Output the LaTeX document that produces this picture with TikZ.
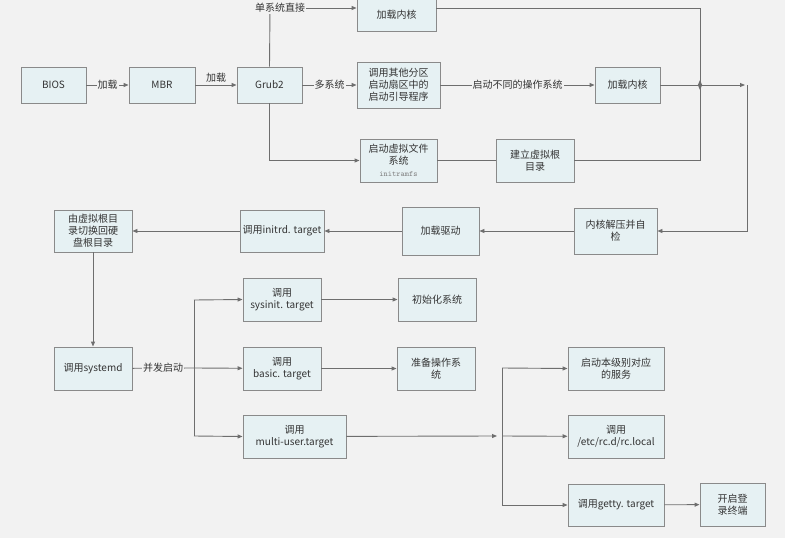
\documentclass[tikz,border=0pt]{standalone}
\usepackage{fontspec}
\setmainfont{Liberation Sans}
\newfontfamily\cjk{Noto Sans CJK SC}
\usetikzlibrary{arrows.meta}
\definecolor{bg}{HTML}{F2F2F2}
\definecolor{bfill}{HTML}{E6F1F3}
\definecolor{bline}{HTML}{8A8A8A}
\definecolor{txt}{HTML}{333333}
\begin{document}
\begin{tikzpicture}[x=1pt,y=-1pt,
  bx/.style={draw=bline,fill=bfill,line width=0.9pt,align=center,text=txt,inner sep=1pt,font=\cjk\fontsize{10}{12}\selectfont},
  ar/.style={draw=bline!80!black,line width=0.9pt,-{Triangle[length=5pt,width=4pt]}},
  ln/.style={draw=bline!80!black,line width=0.9pt},
  lb/.style={fill=bg,text=txt,inner sep=1pt,font=\cjk\fontsize{10}{12}\selectfont}]
\fill[bg] (0,0) rectangle (785,538);
\useasboundingbox (0,0) rectangle (785,538);
\newcommand\bxat[6]{\node[bx,minimum width=#4-#2,minimum height=#5-#3] (#1) at ({(#2+#4)/2},{(#3+#5)/2}) {#6};}
\bxat{bios}{21}{67}{86}{103}{BIOS}
\bxat{mbr}{129}{67}{195}{103}{MBR}
\bxat{grub}{237}{67}{302}{103}{Grub2}
\bxat{k1}{357}{-2}{436}{31}{加载内核}
\bxat{oth}{357}{62}{440}{108}{调用其他分区\\启动扇区中的\\启动引导程序}
\bxat{k2}{595}{67}{660}{103}{加载内核}
\bxat{ird}{360}{139}{437}{182}{启动虚拟文件\\系统\\{\fontsize{8}{10}\selectfont\ttfamily\color{gray}initramfs}}
\bxat{vr}{496}{139}{574}{182}{建立虚拟根\\目录}
\bxat{kd}{574}{208}{657}{254}{内核解压并自\\检}
\bxat{drv}{402}{207}{479}{255}{加载驱动}
\bxat{itg}{240}{210}{324}{252}{调用initrd. target}
\bxat{sw}{54}{210}{132}{252}{由虚拟根目\\录切换回硬\\盘根目录}
\bxat{sd}{54}{347}{132}{390}{调用systemd}
\bxat{si}{243}{278}{321}{321}{调用\\sysinit. target}
\bxat{ini}{398}{278}{476}{321}{初始化系统}
\bxat{ba}{243}{347}{321}{390}{调用\\basic. target}
\bxat{prep}{397}{347}{475}{390}{准备操作系\\统}
\bxat{mu}{243}{415}{346}{458}{调用\\multi-user.target}
\bxat{svc}{568}{347}{664}{390}{启动本级别对应\\的服务}
\bxat{rc}{568}{415}{664}{458}{调用\\/etc/rc.d/rc.local}
\bxat{gt}{568}{484}{664}{526}{调用getty. target}
\bxat{lg}{700}{483}{765}{526}{开启登\\录终端}
\coordinate (j1) at (700,85);
\coordinate (j2) at (747,85);
\coordinate (j3) at (194,368);
\coordinate (j4) at (502,436);
\coordinate (c1) at (270,8);
\draw[ar] (bios) -- node[lb]{加载} (mbr);
\draw[ar] (mbr) -- node[lb,above=1pt]{加载} (grub);
\draw[ar] (grub) -- node[lb]{多系统} (oth);
\draw[ar] (oth) -- node[lb]{启动不同的操作系统} (k2);
\draw[ln] (grub.north) -- (c1);
\draw[ar] (c1) -- (k1.west|-c1);
\node[lb] (l1) at (280,8) {单系统直接};
\draw[ar] (grub.south) |- (ird.west);
\draw[ln] (ird) -- (vr);
\draw[ar] (k1.east|-c1) -| ([yshift=-5pt]j1);
\draw[ar] (vr.east) -| ([yshift=5pt]j1);
\draw[ar] (k2) -- ([xshift=-2pt]j2);
\draw[ar] (j2) |- (kd.east);
\draw[ar] (kd) -- (drv);
\draw[ar] (drv) -- (itg);
\draw[ar] (itg) -- (sw);
\draw[ar] (sw) -- (sd);
\draw[ln] (sd) -- node[lb]{并发启动} (j3);
\draw[ln] (194,300) -- (194,436);
\draw[ar] (194,300) -- (si.west);
\draw[ar] (j3) -- (ba);
\draw[ar] (194,436) -- (mu.west);
\draw[ar] (si) -- (ini);
\draw[ar] (ba) -- (prep);
\draw[ar] (mu) -- ([xshift=-5pt]j4);
\draw[ln] (502,368) -- (502,505);
\draw[ar] (502,368) -- (svc.west);
\draw[ar] (j4) -- (rc);
\draw[ar] (502,505) -- (gt.west);
\draw[ar] (gt) -- (lg);
\end{tikzpicture}
\end{document}
